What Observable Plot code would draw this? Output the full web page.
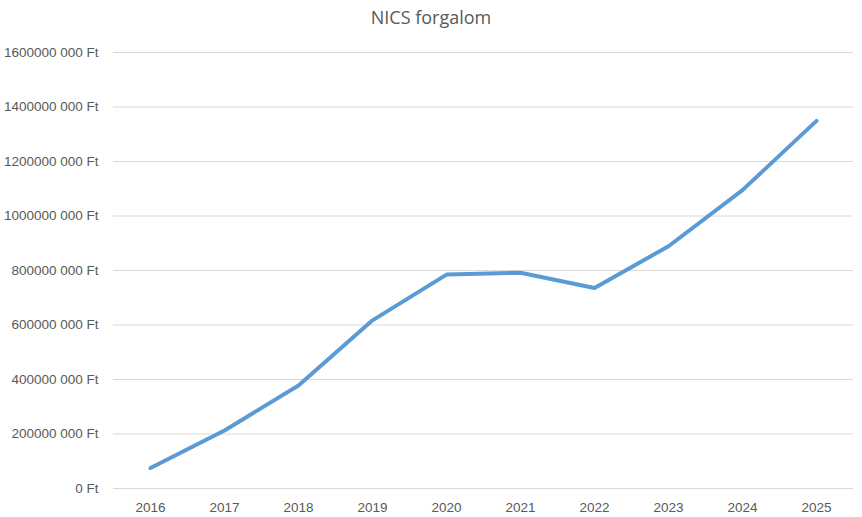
<!DOCTYPE html>
<html>
<head>
<meta charset="utf-8">
<script src="https://cdn.jsdelivr.net/npm/d3@7"></script>
<script src="https://cdn.jsdelivr.net/npm/@observablehq/plot@0.6"></script>
<style>
  html, body { margin: 0; padding: 0; background: #fff; }
  #title { height: 35px; line-height: 35px; text-align: center; font-family: "Open Sans", "Liberation Sans", sans-serif; font-size: 18px; color: #595959; }
</style>
</head>
<body>
<div id="title">NICS forgalom</div>
<div id="chart"></div>
<script>
const years = ["2016","2017","2018","2019","2020","2021","2022","2023","2024","2025"];
const values = [75e6, 213e6, 378e6, 617e6, 785e6, 792e6, 736e6, 889e6, 1095e6, 1349e6];
const yTicks = [0, 200e6, 400e6, 600e6, 800e6, 1000e6, 1200e6, 1400e6, 1600e6];

const fmt = d => {
  if (d === 0) return "0 Ft";
  const head = Math.floor(d / 1000);
  const tail = String(d % 1000).padStart(3, "0");
  return head + " " + tail + " Ft";
};

const data = years.map((y, i) => ({year: y, value: values[i]}));

const chart = Plot.plot({
  width: 862,
  height: 482,
  marginLeft: 113,
  marginRight: 9,
  marginTop: 17,
  marginBottom: 29,
  style: {fontFamily: "'Liberation Sans', Arial, sans-serif", fontSize: "13.5px", color: "#595959", background: "#fff"},
  x: {type: "point", domain: years, padding: 0.5, label: null},
  y: {domain: [0, 1600e6], ticks: yTicks, label: null},
  marks: [
    Plot.gridY(yTicks, {stroke: "#d9d9d9", strokeOpacity: 1, strokeWidth: 1}),
    Plot.axisY(yTicks, {tickFormat: fmt, tickSize: 0, tickPadding: 15, fill: "#595959", fontSize: 13.5}),
    Plot.axisX(years, {tickSize: 0, tickPadding: 14, fill: "#595959", fontSize: 13.5}),
    Plot.line(data, {x: "year", y: "value", stroke: "#5B9BD5", strokeWidth: 4, strokeLinejoin: "round", strokeLinecap: "round"})
  ]
});
document.getElementById("chart").appendChild(chart);
</script>
</body>
</html>
